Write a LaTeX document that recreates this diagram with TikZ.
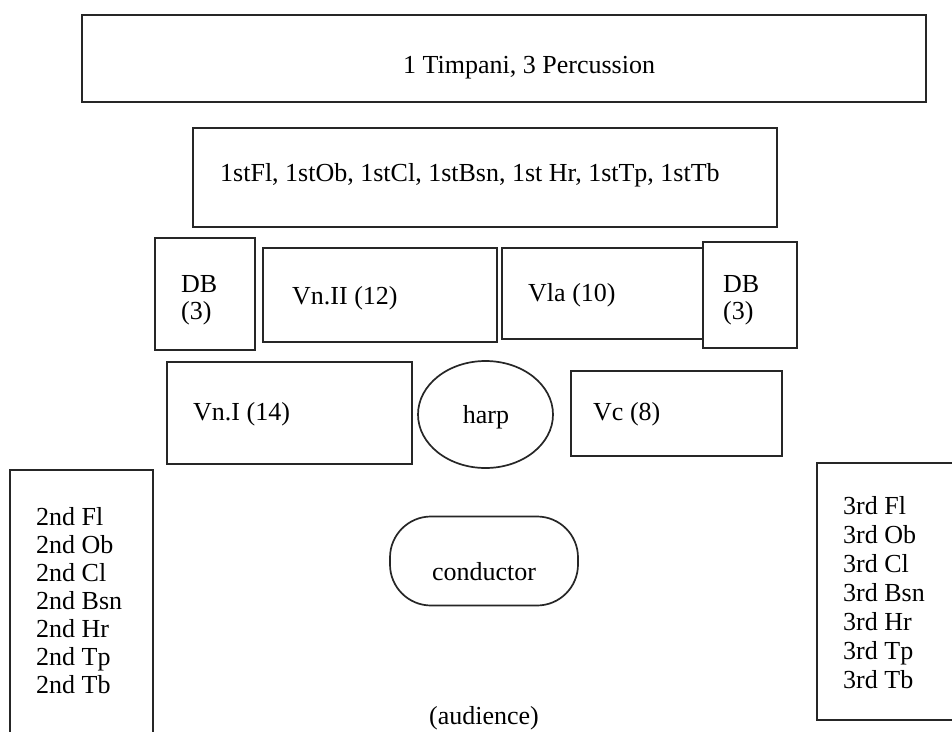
\documentclass[tikz,border=0pt]{standalone}
\usepackage{fontspec}
\setmainfont{Liberation Serif}
\usetikzlibrary{shapes.geometric}
\begin{document}
\begin{tikzpicture}[x=1pt,y=-1pt,
  box/.style={draw=black!85,line width=1.7pt,inner sep=0pt,outer sep=0pt},
  lbl/.style={inner sep=0pt,anchor=base west,font=\fontsize{26}{28}\selectfont},
  clbl/.style={inner sep=0pt,anchor=base,font=\fontsize{26}{28}\selectfont}]
\useasboundingbox (0,0) rectangle (952,731);
\clip (0,0) rectangle (952,731);
\fill[white] (0,0) rectangle (952,731);
% boxes: centre (x,y), width, height
\node[box,minimum width=844,minimum height=87] (timp) at (504,58.5) {};
\node[box,minimum width=584,minimum height=99] (first) at (485,177.5) {};
\node[box,minimum width=100,minimum height=112] (dbl) at (205,294) {};
\node[box,minimum width=234,minimum height=94] (vn2) at (380,295) {};
\node[box,minimum width=201,minimum height=91] (vla) at (602.5,293.5) {};
\node[box,minimum width=94,minimum height=106] (dbr) at (750,295) {};
\node[box,minimum width=245,minimum height=102] (vn1) at (289.5,413) {};
\node[box,ellipse,minimum width=135,minimum height=107] (harp) at (485.5,414.5) {};
\node[box,minimum width=211,minimum height=85] (vc) at (676.5,413.5) {};
\node[box,minimum width=143,minimum height=280] (second) at (81.5,610) {};
\node[box,minimum width=140,minimum height=257] (third) at (887,591.5) {};
\node[box,rounded corners=41pt,minimum width=188,minimum height=89] (cond) at (484,561) {};
% texts
\node[lbl] (ttimp) at (403,73) {1 Timpani, 3 Percussion};
\node[lbl] (tfirst) at (220,181) {1stFl, 1stOb, 1stCl, 1stBsn, 1st Hr, 1stTp, 1stTb};
\node[lbl] (tdbl1) at (181,292) {DB};
\node[lbl] (tdbl2) at (181,319) {(3)};
\node[lbl] (tvn2) at (292,304) {Vn.II (12)};
\node[lbl] (tvla) at (528,301) {Vla (10)};
\node[lbl] (tdbr1) at (723,292) {DB};
\node[lbl] (tdbr2) at (723,319) {(3)};
\node[lbl] (tvn1) at (193,420) {Vn.I (14)};
\node[clbl] (tharp) at (486,423) {harp};
\node[lbl] (tvc) at (593,420) {Vc (8)};
\node[clbl] (tcond) at (484,580) {conductor};
\node[clbl] (taud) at (484,724) {(audience)};
\foreach \t [count=\i from 0] in {2nd Fl,2nd Ob,2nd Cl,2nd Bsn,2nd Hr,2nd Tp,2nd Tb}
  \node[lbl] (tsec\i) at (36,525+28*\i) {\t};
\foreach \t [count=\i from 0] in {3rd Fl,3rd Ob,3rd Cl,3rd Bsn,3rd Hr,3rd Tp,3rd Tb}
  \node[lbl] (tthr\i) at (843,514+29*\i) {\t};
\end{tikzpicture}
\end{document}
